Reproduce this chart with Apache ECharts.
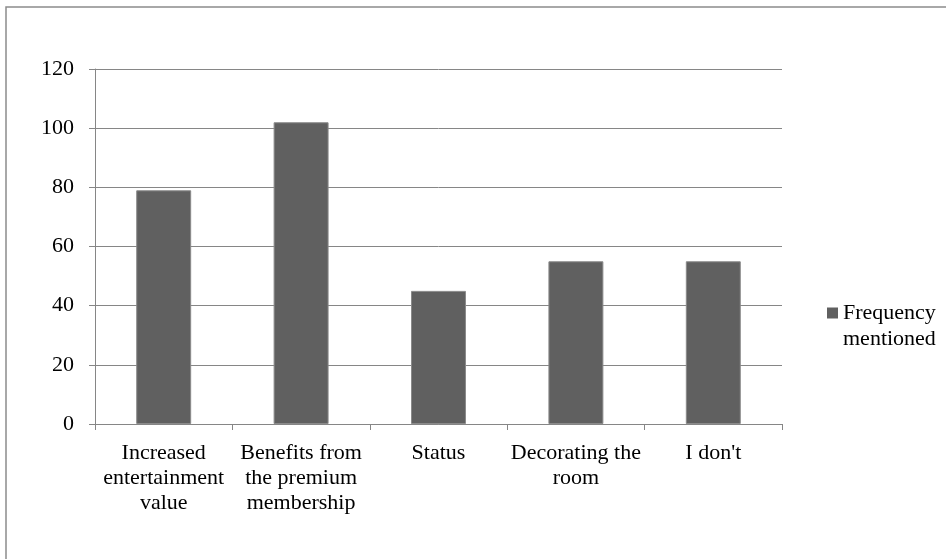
<!DOCTYPE html>
<html>
<head>
<meta charset="utf-8">
<script src="https://cdn.jsdelivr.net/npm/echarts@6/dist/echarts.min.js"></script>
<style>
html,body{margin:0;padding:0;background:#fff;}
#chart{width:946px;height:559px;}
</style>
</head>
<body>
<div id="chart"></div>
<script>
const categories = [
  "Increased\nentertainment\nvalue",
  "Benefits from\nthe premium\nmembership",
  "Status",
  "Decorating the\nroom",
  "I don't"
];
const seriesName = "Frequency\nmentioned";
const frequencyValues = [79, 102, 45, 55, 55];
const yTicks = { min: 0, max: 120, interval: 20 };

const FONT = "'Liberation Serif','Times New Roman',serif";
const chart = echarts.init(document.getElementById('chart'));
chart.setOption({
  animation: false,
  backgroundColor: '#ffffff',
  graphic: [{
    type: 'rect',
    shape: { x: 6, y: 7, width: 1200, height: 1200 },
    style: { fill: 'none', stroke: '#8c8c8c', lineWidth: 1.5 },
    silent: true
  }],
  grid: { left: 95, right: 164, top: 69, bottom: 135, containLabel: false },
  legend: {
    left: 822,
    top: 269,
    itemWidth: 11,
    itemHeight: 11,
    icon: 'rect',
    data: [seriesName],
    formatter: function (name) { return '\n' + name; },
    itemStyle: { borderWidth: 0 },
    textStyle: {
      fontFamily: FONT, fontSize: 22, color: '#000', lineHeight: 26
    }
  },
  xAxis: {
    type: 'category',
    data: categories,
    axisLine: { lineStyle: { color: '#868686', width: 1 } },
    axisTick: { show: true, length: 6, lineStyle: { color: '#868686' } },
    axisLabel: {
      interval: 0, margin: 17, color: '#000',
      fontFamily: FONT, fontSize: 22, lineHeight: 25
    }
  },
  yAxis: {
    type: 'value',
    min: yTicks.min, max: yTicks.max, interval: yTicks.interval,
    axisLine: { show: true, lineStyle: { color: '#868686', width: 1 } },
    axisTick: { show: true, length: 6, lineStyle: { color: '#868686' } },
    splitLine: { show: true, lineStyle: { color: '#868686', width: 1 } },
    axisLabel: { margin: 21, color: '#000', fontFamily: FONT, fontSize: 22 }
  },
  series: [{
    name: seriesName,
    type: 'bar',
    data: frequencyValues,
    barWidth: '40%',
    itemStyle: { color: '#606060', borderColor: '#8a8a8a', borderWidth: 1 }
  }]
});
</script>
</body>
</html>
